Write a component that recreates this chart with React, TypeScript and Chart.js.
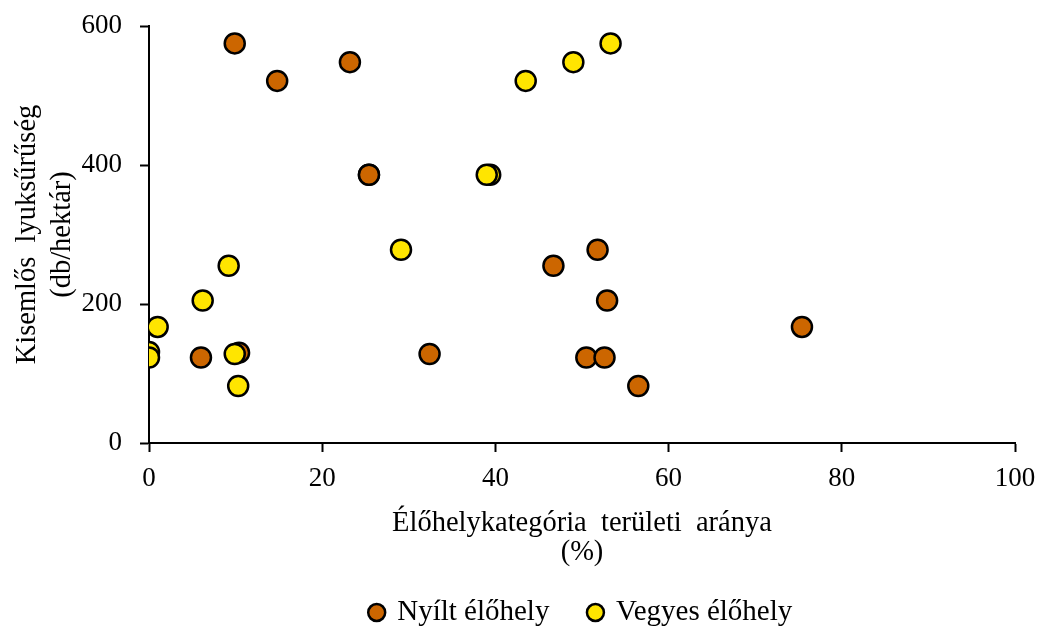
import React, { useEffect, useRef } from "react";
import { Chart, registerables } from "chart.js";

Chart.register(...registerables);

const openX = [9.9, 14.8, 23.2, 25.4, 25.4, 51.8, 46.7, 52.9, 75.4, 10.4, 32.4, 6.0, 50.5, 52.6, 56.5];
const openY = [575, 521, 548, 386, 386, 278, 255, 205, 167, 130, 128, 123, 123, 123, 82];

const mixedX = [53.3, 49.0, 43.5, 39.4, 39.0, 29.1, 9.2, 6.2, 1.0, 0, 0, 9.9, 10.3];
const mixedY = [575, 548, 521, 386, 386, 278, 255, 205, 167, 131, 123, 128, 82];

const seriesNames = ["Nyílt élőhely", "Vegyes élőhely"];
const xTitle = ["Élőhelykategória  területi  aránya", "(%)"];
const yTitle = ["Kisemlős  lyuksűrűség", "(db/hektár)"];

const FONT = "'Liberation Serif', 'Times New Roman', serif";

const legendShift = {
  id: "legendShift",
  afterLayout(chart: any) {
    const lg = chart.legend;
    if (lg) {
      lg.left += 74;
      lg.right += 74;
    }
  },
};

export default function App() {
  const ref = useRef<HTMLCanvasElement | null>(null);
  useEffect(() => {
    if (!ref.current) return;
    const chart = new Chart(ref.current, {
      type: "scatter",
      data: {
        datasets: [
          {
            label: seriesNames[0],
            data: openX.map((x, i) => ({ x, y: openY[i] })),
            backgroundColor: "#CC6600",
            borderColor: "#000000",
            borderWidth: 2.5,
            pointRadius: 10,
            pointHoverRadius: 10,
            order: 1,
          },
          {
            label: seriesNames[1],
            data: mixedX.map((x, i) => ({ x, y: mixedY[i] })),
            backgroundColor: "#FFE500",
            borderColor: "#000000",
            borderWidth: 2.5,
            pointRadius: 10,
            pointHoverRadius: 10,
            order: 0,
          },
        ],
      },
      plugins: [legendShift],
      options: {
        animation: false,
        responsive: true,
        maintainAspectRatio: false,
        layout: { padding: { top: 26, right: 24, left: 0, bottom: -9 } },
        plugins: {
          tooltip: { enabled: false },
          legend: {
            position: "bottom",
            labels: {
              usePointStyle: true,
              pointStyle: "circle",
              boxWidth: 12,
              boxHeight: 12,
              padding: 40,
              color: "#000",
              font: { family: FONT, size: 29 },
              sort: (a: any, b: any) => a.datasetIndex - b.datasetIndex,
            },
          },
        },
        scales: {
          x: {
            type: "linear",
            min: 0,
            max: 100,
            ticks: { stepSize: 20, color: "#000", font: { family: FONT, size: 27 }, padding: 11 },
            grid: { drawOnChartArea: false, drawTicks: true, tickLength: 9, tickColor: "#000", tickWidth: 2 },
            border: { display: true, color: "#000", width: 2 },
            title: { display: true, text: xTitle, color: "#000", font: { family: FONT, size: 28.5, lineHeight: 1.02 }, padding: { top: 0, bottom: -9.5 } },
            afterFit: (s: any) => {
              s.height = 115;
              s.paddingLeft = 0;
              s.paddingRight = 0;
            },
          },
          y: {
            type: "linear",
            min: 0,
            max: 600,
            ticks: { stepSize: 200, color: "#000", font: { family: FONT, size: 27 }, padding: 18 },
            grid: { drawOnChartArea: false, drawTicks: true, tickLength: 9, tickColor: "#000", tickWidth: 2 },
            border: { display: true, color: "#000", width: 2 },
            title: { display: true, text: yTitle, color: "#000", font: { family: FONT, size: 28.5, lineHeight: 1.23 }, padding: { top: 9.5, bottom: 0 } },
            afterFit: (s: any) => {
              s.width = 149;
              s.paddingTop = 0;
              s.paddingBottom = 0;
            },
          },
        },
      },
    });
    return () => chart.destroy();
  }, []);
  return (
    <div style={{ position: "fixed", left: 0, top: 0, width: 1039, height: 628, background: "#fff" }}>
      <canvas ref={ref} />
    </div>
  );
}
